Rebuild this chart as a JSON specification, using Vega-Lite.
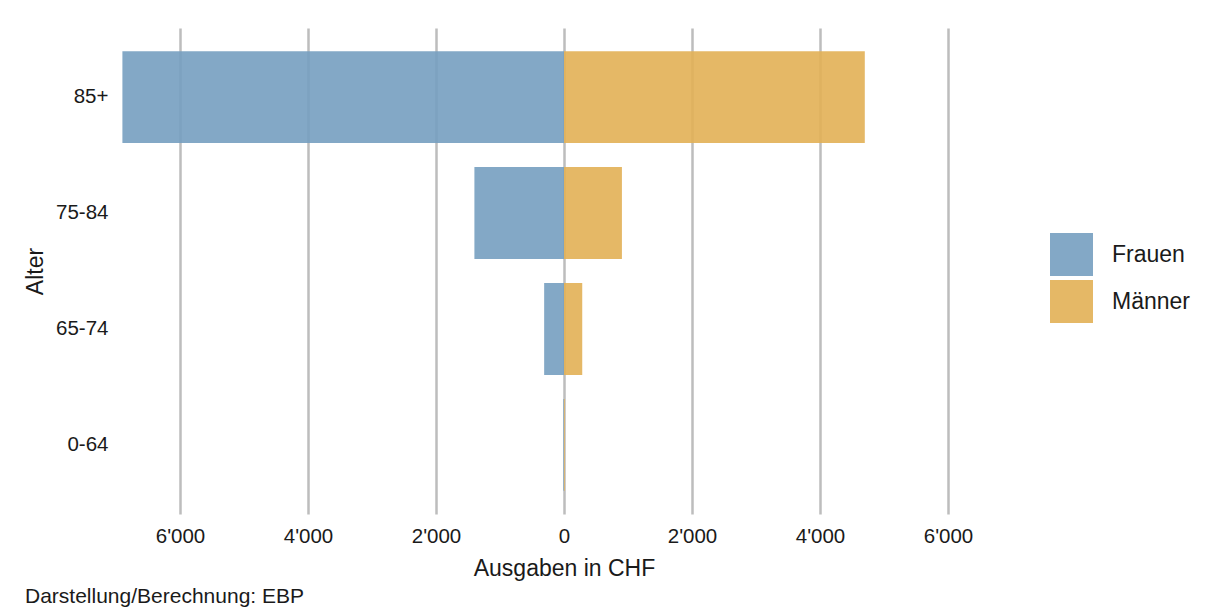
{
  "$schema": "https://vega.github.io/schema/vega-lite/v6.json",
  "autosize": {"type": "none"},
  "padding": {"left": 116, "top": 28, "right": 198, "bottom": 99},
  "width": 896,
  "height": 486,
  "background": "white",
  "config": {
    "font": "Liberation Sans",
    "view": {"stroke": null}
  },
  "title": {
    "text": "Darstellung/Berechnung: EBP",
    "orient": "bottom",
    "anchor": "start",
    "frame": "group",
    "dx": -91,
    "offset": 5,
    "fontSize": 21,
    "fontWeight": "normal",
    "color": "#1a1a1a"
  },
  "data": {
    "values": [
      {"Alter": "85+", "Geschlecht": "Frauen", "Ausgaben": -6900},
      {"Alter": "85+", "Geschlecht": "Männer", "Ausgaben": 4700},
      {"Alter": "75-84", "Geschlecht": "Frauen", "Ausgaben": -1400},
      {"Alter": "75-84", "Geschlecht": "Männer", "Ausgaben": 905},
      {"Alter": "65-74", "Geschlecht": "Frauen", "Ausgaben": -310},
      {"Alter": "65-74", "Geschlecht": "Männer", "Ausgaben": 285},
      {"Alter": "0-64", "Geschlecht": "Frauen", "Ausgaben": -10},
      {"Alter": "0-64", "Geschlecht": "Männer", "Ausgaben": 12}
    ]
  },
  "mark": {"type": "bar", "opacity": 0.9},
  "encoding": {
    "y": {
      "field": "Alter",
      "type": "nominal",
      "sort": ["85+", "75-84", "65-74", "0-64"],
      "scale": {"paddingInner": 0.207, "paddingOuter": 0.2},
      "axis": {
        "title": "Alter",
        "titleFontSize": 23,
        "titleFontWeight": "normal",
        "titleColor": "#1a1a1a",
        "titlePadding": 8,
        "labelFontSize": 20.5,
        "labelColor": "#1a1a1a",
        "labelPadding": 8,
        "domain": false,
        "ticks": false,
        "tickSize": 0,
        "grid": false
      }
    },
    "x": {
      "field": "Ausgaben",
      "type": "quantitative",
      "scale": {"domain": [-7000, 7000], "nice": false, "zero": false},
      "axis": {
        "title": "Ausgaben in CHF",
        "titleFontSize": 23,
        "titleFontWeight": "normal",
        "titleColor": "#1a1a1a",
        "titlePadding": 11,
        "values": [-6000, -4000, -2000, 0, 2000, 4000, 6000],
        "labelExpr": "replace(format(abs(datum.value), ','), ',', \"'\")",
        "labelFontSize": 20.5,
        "labelColor": "#1a1a1a",
        "labelPadding": 12,
        "domain": false,
        "ticks": false,
        "tickSize": 0,
        "grid": true,
        "gridColor": "#bdbdbd",
        "gridWidth": 2.5
      }
    },
    "color": {
      "field": "Geschlecht",
      "type": "nominal",
      "scale": {"domain": ["Frauen", "Männer"], "range": ["#769ec0", "#e2b055"]},
      "legend": {
        "title": null,
        "orient": "none",
        "legendX": 934,
        "legendY": 205,
        "padding": 0,
        "symbolType": "square",
        "symbolSize": 1849,
        "symbolStrokeWidth": 0,
        "symbolOffset": 0,
        "rowPadding": 4,
        "labelFontSize": 23,
        "labelColor": "#1a1a1a",
        "labelOffset": 19
      }
    }
  }
}
